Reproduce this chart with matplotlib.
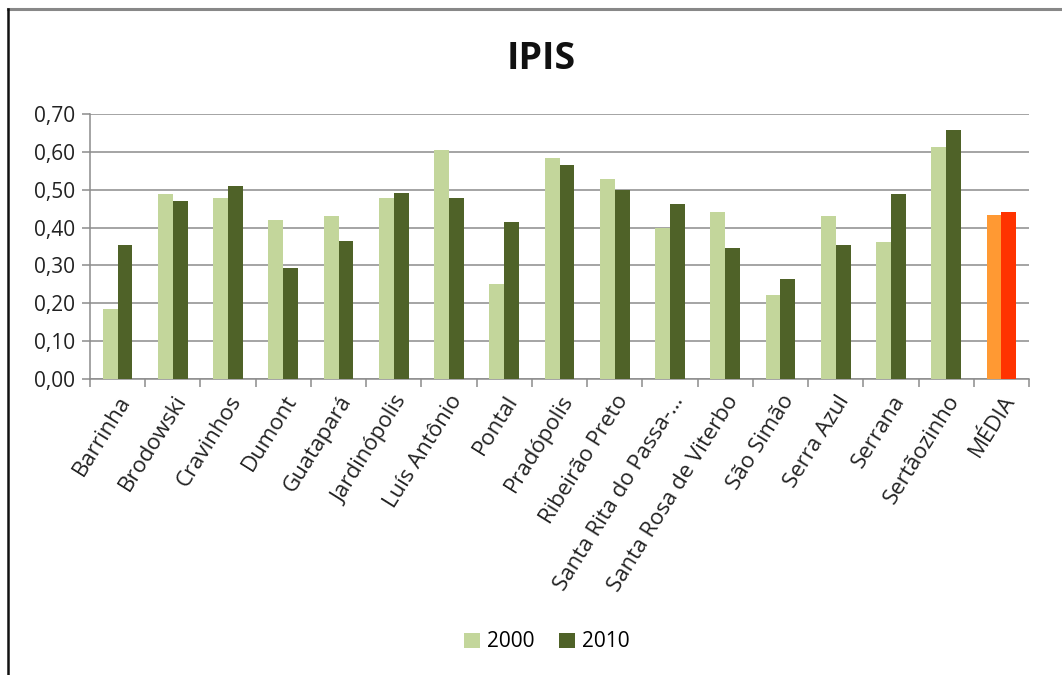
import matplotlib
matplotlib.use("Agg")
import matplotlib.pyplot as plt
from matplotlib.lines import Line2D
from matplotlib.patches import Patch
import numpy as np

plt.rcParams['font.family'] = ['Open Sans', 'DejaVu Sans']

categories = ["Barrinha", "Brodowski", "Cravinhos", "Dumont", "Guatapará", "Jardinópolis",
              "Luís Antônio", "Pontal", "Pradópolis", "Ribeirão Preto", "Santa Rita do Passa-…",
              "Santa Rosa de Viterbo", "São Simão", "Serra Azul", "Serrana", "Sertãozinho", "MÉDIA"]
v2000 = [0.185, 0.488, 0.479, 0.421, 0.432, 0.479, 0.606, 0.251, 0.584, 0.529, 0.398,
         0.441, 0.222, 0.432, 0.362, 0.612, 0.434]
v2010 = [0.355, 0.470, 0.510, 0.292, 0.365, 0.492, 0.479, 0.415, 0.565, 0.500, 0.463,
         0.346, 0.263, 0.355, 0.488, 0.657, 0.441]
yticks = [0.0, 0.1, 0.2, 0.3, 0.4, 0.5, 0.6, 0.7]
ytick_labels = ["0,00", "0,10", "0,20", "0,30", "0,40", "0,50", "0,60", "0,70"]

c2000 = "#C3D69B"
c2010 = "#4F6228"
c2000_media = "#FF9933"
c2010_media = "#FF3300"

fig = plt.figure(figsize=(10.62, 6.75), dpi=100)
ax = fig.add_axes([0.0847, 0.4385, 0.969 - 0.0847, 0.831 - 0.4385])

x = np.arange(len(categories))
w = 0.27
cols2000 = [c2000] * (len(categories) - 1) + [c2000_media]
cols2010 = [c2010] * (len(categories) - 1) + [c2010_media]
ax.bar(x - w / 2, v2000, width=w, color=cols2000, zorder=3)
ax.bar(x + w / 2, v2010, width=w, color=cols2010, zorder=3)

ax.set_xlim(-0.5, len(categories) - 0.5)
ax.set_ylim(0, 0.70)
ax.set_yticks(yticks)
ax.set_yticklabels(ytick_labels, fontsize=15, color="#222222")
ax.yaxis.grid(True, color="#8C8C8C", linewidth=1.1, zorder=0)
ax.set_axisbelow(True)

ax.set_xticks(np.arange(len(categories) + 1) - 0.5, minor=False)
ax.set_xticklabels([])
ax.set_xticks(x, minor=True)
ax.set_xticklabels(categories, minor=True, rotation=58, ha="right",
                   rotation_mode="anchor", fontsize=16, color="#222222")
ax.tick_params(axis="x", which="minor", length=0, pad=9)
ax.tick_params(axis="x", which="major", length=6, color="#8C8C8C", width=1.1, direction="out")
ax.tick_params(axis="y", length=6, color="#8C8C8C", width=1.1, pad=5)

for s in ["top", "right"]:
    ax.spines[s].set_visible(False)
for s in ["left", "bottom"]:
    ax.spines[s].set_color("#8C8C8C")
    ax.spines[s].set_linewidth(1.1)

fig.text(0.51, 0.912, "IPIS", ha="center", va="center", fontsize=27, fontweight="bold", color="#111111")

handles = [Patch(facecolor=c2000, edgecolor="none", label="2000"),
           Patch(facecolor=c2010, edgecolor="none", label="2010")]
fig.legend(handles=handles, loc="center", bbox_to_anchor=(0.515, 0.049), ncol=2, frameon=False,
           fontsize=15, handlelength=0.75, handleheight=0.75, handletextpad=0.35, columnspacing=1.2)

# outer frame lines (top gray, left black)
fig.add_artist(Line2D([8 / 1062, 1.0], [1 - 9 / 675, 1 - 9 / 675], transform=fig.transFigure,
                      color="#888888", linewidth=2.2))
fig.add_artist(Line2D([8 / 1062, 8 / 1062], [0, 1 - 9 / 675], transform=fig.transFigure,
                      color="#111111", linewidth=1.8))

fig.savefig("out.png", dpi=100)
